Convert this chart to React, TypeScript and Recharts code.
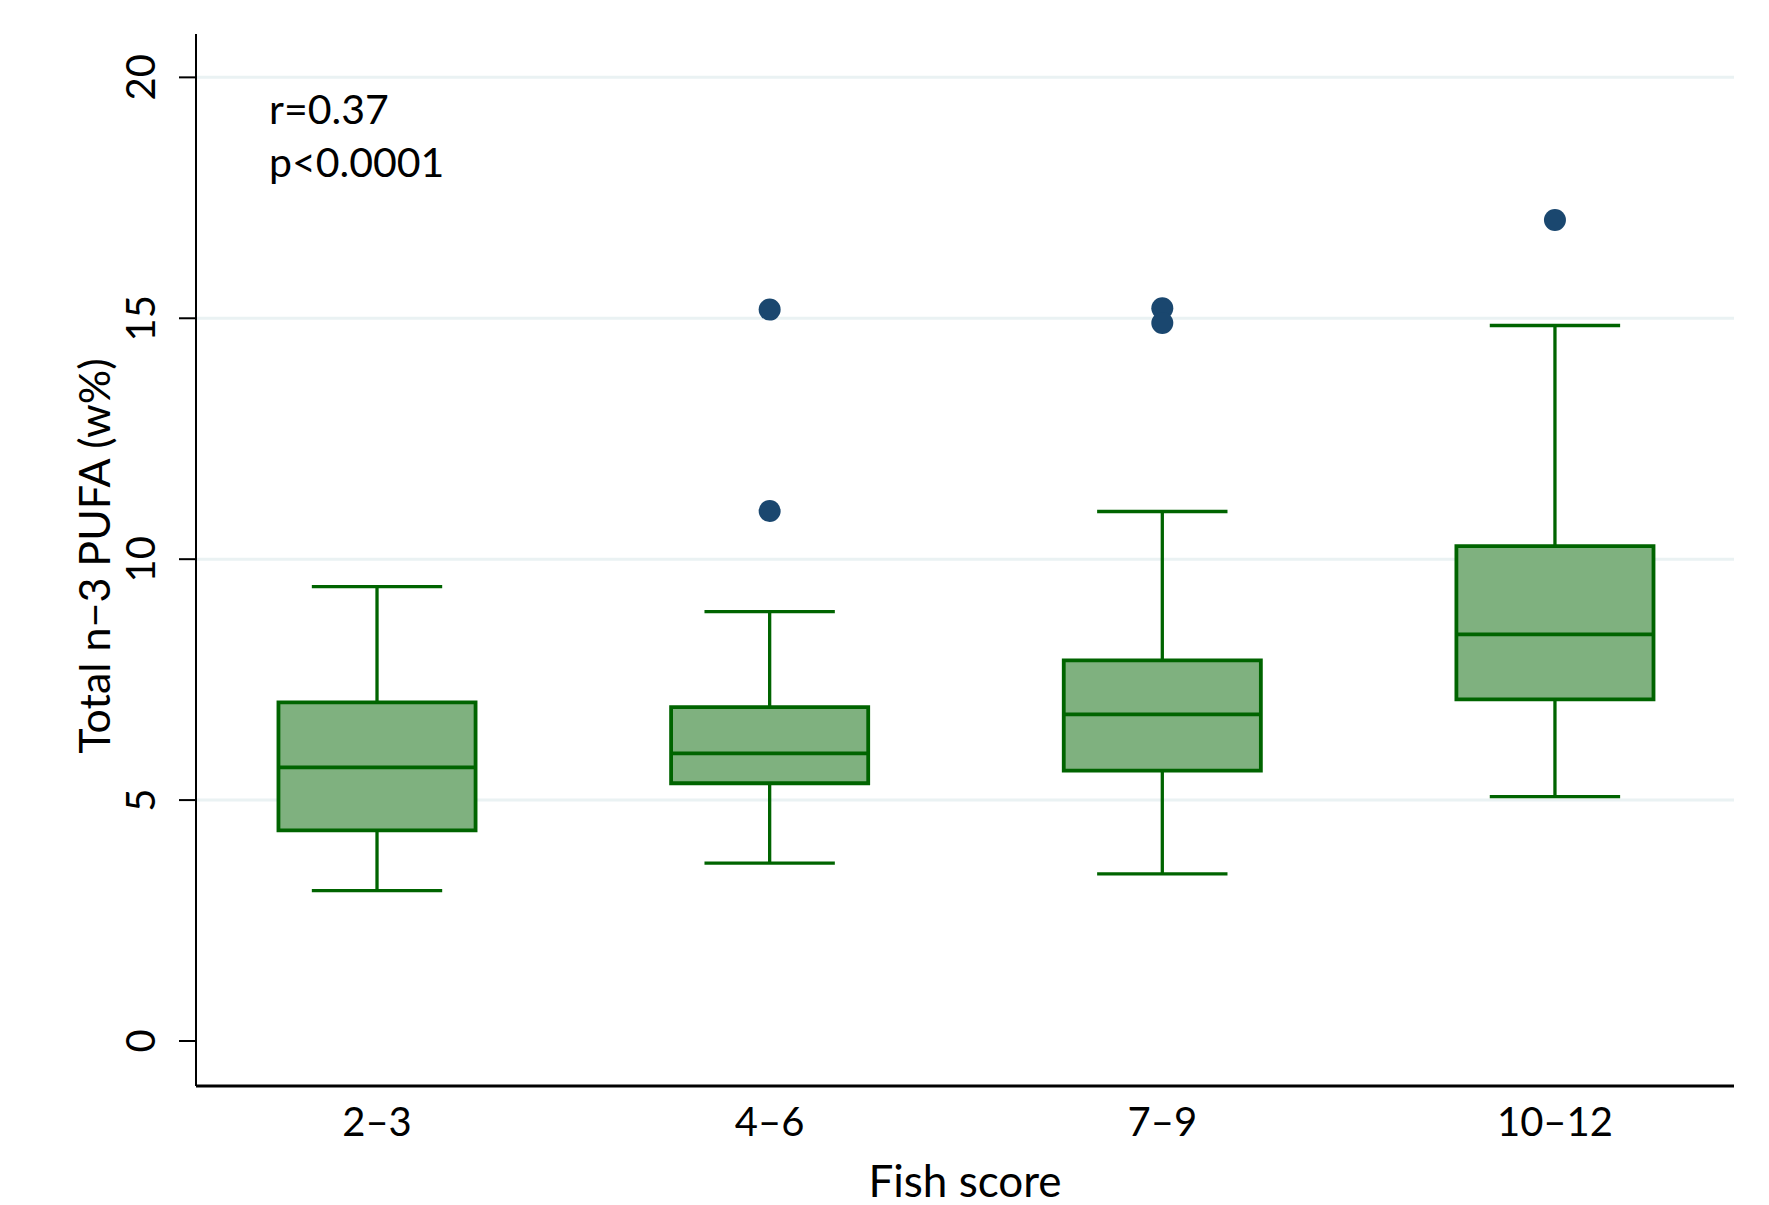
import React from "react";
import {
  ComposedChart,
  CartesianGrid,
  XAxis,
  YAxis,
  Scatter,
  ReferenceArea,
  ReferenceLine,
} from "recharts";

const FONT = "Lato, 'Open Sans', sans-serif";

// box plot summary
const categories = ["2–3", "4–6", "7–9", "10–12"];
const lowerWhisker = [3.12, 3.69, 3.47, 5.07];
const q1 = [4.37, 5.35, 5.61, 7.09];
const median = [5.68, 5.97, 6.78, 8.44];
const q3 = [7.03, 6.93, 7.9, 10.27];
const upperWhisker = [9.43, 8.91, 10.99, 14.85];

// outside values
const outlierGroup = [2, 2, 3, 3, 4];
const outlierValue = [15.18, 11.0, 15.21, 14.9, 17.04];

const yTicks = [0, 5, 10, 15, 20];
const gridValues = [5, 10, 15, 20];
const yDomain: [number, number] = [-0.934, 20.9];

const BOX_STROKE = "#006400";
const BOX_FILL = "#7fb17f";
const DOT = "#1a476f";
const GRID = "#eaf2f3";

const boxHalf = 0.251;
const capHalf = 0.166;

function XTick(props: any) {
  const { x, payload } = props;
  return (
    <text
      x={x}
      y={1136}
      textAnchor="middle"
      fontFamily={FONT}
      fontSize={40}
      fill="#000"
    >
      {categories[payload.value - 1]}
    </text>
  );
}

function YTick(props: any) {
  const { y, payload } = props;
  const bx = 155;
  return (
    <text
      x={bx}
      y={y}
      transform={`rotate(-90 ${bx} ${y})`}
      textAnchor="middle"
      fontFamily={FONT}
      fontSize={40}
      fill="#000"
    >
      {payload.value}
    </text>
  );
}

export default function App() {
  const outliers = outlierGroup.map((g, i) => ({ x: g, y: outlierValue[i] }));

  return (
    <div
      style={{
        position: "absolute",
        left: 0,
        top: 0,
        width: 1769,
        height: 1205,
        background: "#fff",
      }}
    >
      <ComposedChart
        width={1769}
        height={1205}
        margin={{ top: 34, right: 35, bottom: 0, left: 0 }}
      >
        <CartesianGrid
          vertical={false}
          stroke={GRID}
          strokeWidth={3}
          yAxisId="grid"
          syncWithTicks
        />
        <XAxis
          type="number"
          dataKey="x"
          domain={[0.539, 4.456]}
          ticks={[1, 2, 3, 4]}
          interval={0}
          allowDataOverflow
          height={119}
          tickLine={false}
          axisLine={{ stroke: "#000", strokeWidth: 3 }}
          tick={<XTick />}
          label={{
            value: "Fish score",
            position: "insideBottom",
            offset: 8,
            fontFamily: FONT,
            fontSize: 44,
            fill: "#000",
          }}
        />
        <YAxis
          type="number"
          dataKey="y"
          domain={yDomain}
          ticks={yTicks}
          interval={0}
          allowDataOverflow
          width={196}
          tickSize={17}
          tickLine={{ stroke: "#000", strokeWidth: 2 }}
          axisLine={{ stroke: "#000", strokeWidth: 2 }}
          tick={<YTick />}
          label={{
            content: () => (
              <text
                x={110}
                y={556}
                transform="rotate(-90 110 556)"
                textAnchor="middle"
                fontFamily={FONT}
                fontSize={43}
                fill="#000"
              >
                Total n−3 PUFA (w%)
              </text>
            ),
          }}
        />
        <YAxis
          yAxisId="grid"
          type="number"
          domain={yDomain}
          ticks={gridValues}
          interval={0}
          allowDataOverflow
          width={0}
          hide
        />

        {categories.map((c, i) => {
          const x = i + 1;
          return (
            <React.Fragment key={c}>
              <ReferenceLine
                segment={[
                  { x, y: q3[i] },
                  { x, y: upperWhisker[i] },
                ]}
                stroke={BOX_STROKE}
                strokeWidth={3.3}
              />
              <ReferenceLine
                segment={[
                  { x, y: lowerWhisker[i] },
                  { x, y: q1[i] },
                ]}
                stroke={BOX_STROKE}
                strokeWidth={3.3}
              />
              <ReferenceLine
                segment={[
                  { x: x - capHalf, y: upperWhisker[i] },
                  { x: x + capHalf, y: upperWhisker[i] },
                ]}
                stroke={BOX_STROKE}
                strokeWidth={3.3}
              />
              <ReferenceLine
                segment={[
                  { x: x - capHalf, y: lowerWhisker[i] },
                  { x: x + capHalf, y: lowerWhisker[i] },
                ]}
                stroke={BOX_STROKE}
                strokeWidth={3.3}
              />
              <ReferenceArea
                x1={x - boxHalf}
                x2={x + boxHalf}
                y1={q1[i]}
                y2={q3[i]}
                fill={BOX_FILL}
                fillOpacity={1}
                stroke={BOX_STROKE}
                strokeWidth={3.8}
              />
              <ReferenceLine
                segment={[
                  { x: x - boxHalf, y: median[i] },
                  { x: x + boxHalf, y: median[i] },
                ]}
                stroke={BOX_STROKE}
                strokeWidth={3.8}
              />
            </React.Fragment>
          );
        })}

        <Scatter
          data={outliers}
          isAnimationActive={false}
          shape={(p: any) => (
            <circle cx={p.cx} cy={p.cy} r={11} fill={DOT} />
          )}
        />
      </ComposedChart>

      <svg
        width={1769}
        height={1205}
        style={{ position: "absolute", left: 0, top: 0, pointerEvents: "none" }}
      >
        <text x={269} y={124} fontFamily={FONT} fontSize={41} fill="#000">
          r=0.37
        </text>
        <text x={269} y={177} fontFamily={FONT} fontSize={41} fill="#000">
          p&lt;0.0001
        </text>
      </svg>
    </div>
  );
}
